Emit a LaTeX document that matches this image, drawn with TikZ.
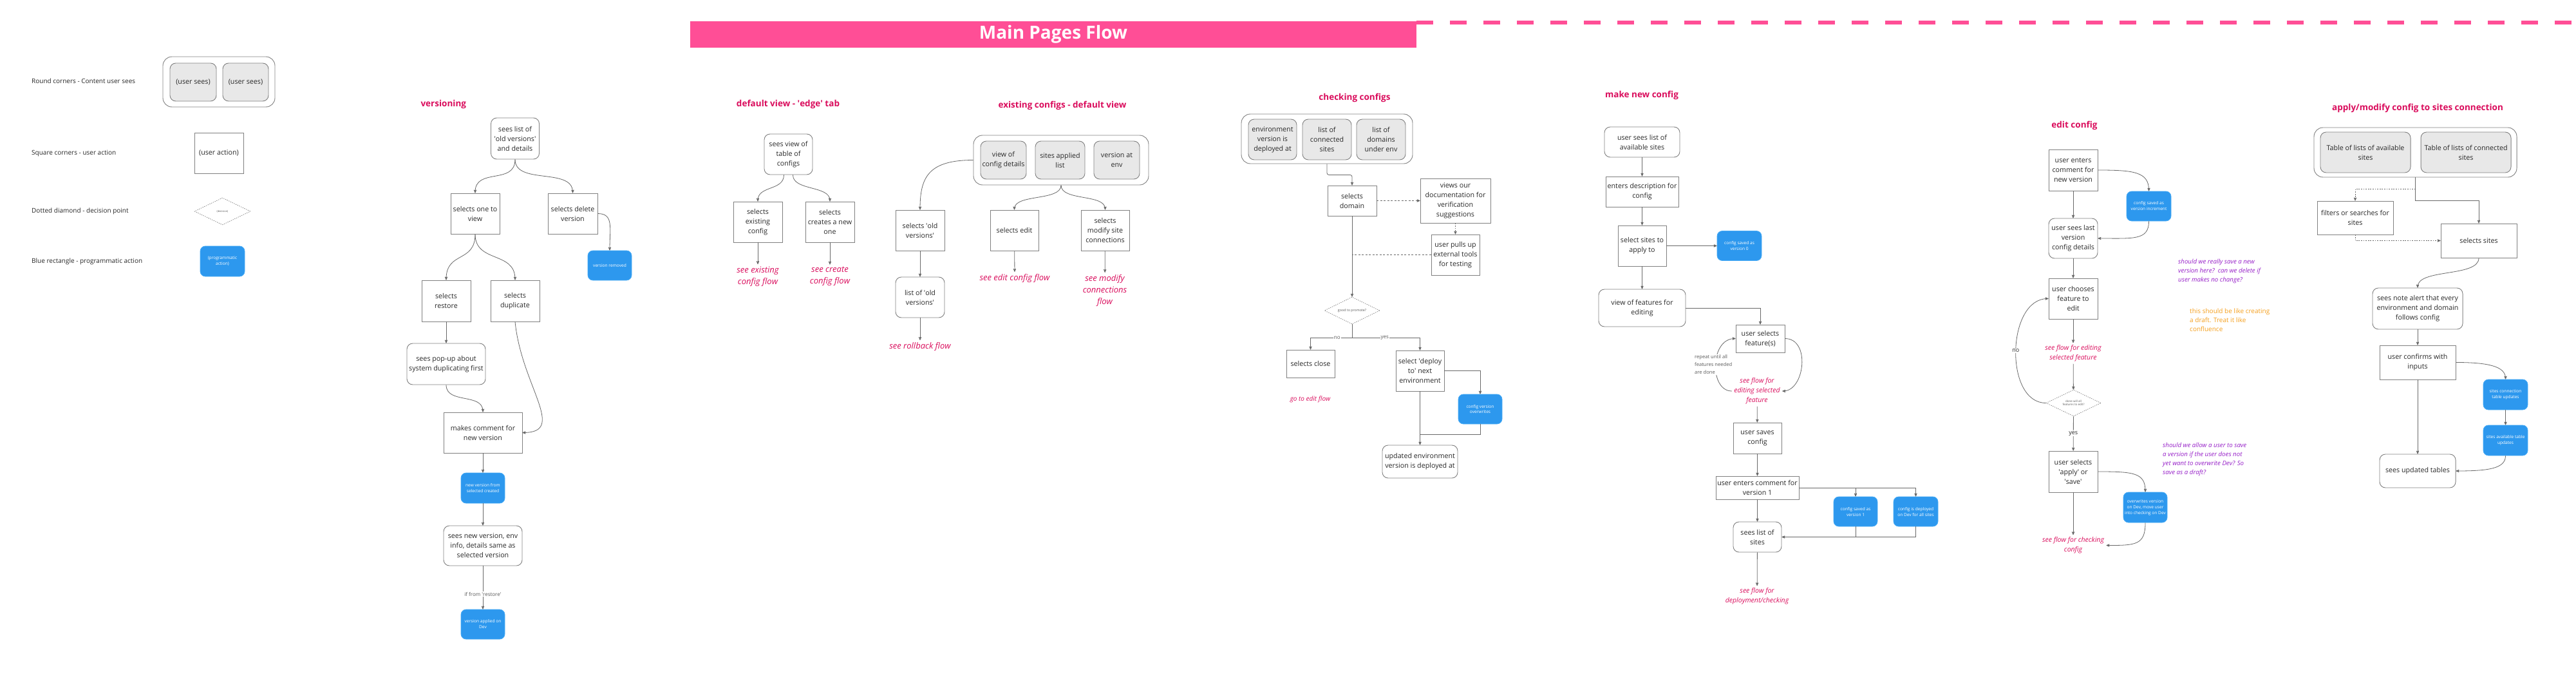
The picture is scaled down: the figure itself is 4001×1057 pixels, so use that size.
\documentclass[tikz,border=0pt]{standalone}
\usepackage{fontspec}
\setmainfont{Open Sans}
\usetikzlibrary{arrows,positioning,shapes.geometric}
\definecolor{barpink}{RGB}{255,78,150}
\definecolor{headpink}{RGB}{218,12,92}
\definecolor{progblue}{RGB}{45,152,238}
\definecolor{progedge}{RGB}{70,170,245}
\definecolor{panelgrey}{RGB}{232,232,232}
\definecolor{boxline}{RGB}{128,128,128}
\definecolor{linkgrey}{RGB}{105,105,105}
\definecolor{textdark}{RGB}{40,40,40}
\definecolor{textgrey}{RGB}{90,90,90}
\definecolor{notepurple}{RGB}{150,30,200}
\definecolor{noteorange}{RGB}{245,160,30}
\newcommand{\sq}{\textquotesingle}
\tikzset{
    %Define standard arrow tip
    >=stealth',
    %square corners - user action
    act/.style={
           rectangle,
           draw=boxline, line width=0.9pt,
           fill=white,
           minimum width=76pt,
           minimum height=63pt,
           inner sep=2pt,
           align=center,
           text=textdark,
           font=\fontsize{10.7}{15}\selectfont},
    %round corners - content user sees
    sees/.style={act, rounded corners=9pt},
    panel/.style={sees, fill=panelgrey},
    holder/.style={
           rectangle,
           draw=boxline, line width=0.9pt,
           rounded corners=14pt},
    %blue - programmatic action
    prog/.style={
           rectangle,
           rounded corners=8pt,
           fill=progblue, draw=progedge, line width=0.8pt,
           minimum width=68pt,
           minimum height=46pt,
           inner sep=1pt,
           align=center,
           text=white,
           font=\fontsize{6.6}{9}\selectfont},
    %dotted diamond - decision
    decide/.style={
           diamond, aspect=2,
           draw=boxline, line width=0.7pt,
           dash pattern=on 1.5pt off 1.5pt,
           inner sep=0pt,
           minimum width=86pt,
           minimum height=42pt,
           align=center,
           text=textgrey},
    % Define arrow style
    conn/.style={->, draw=linkgrey, line width=0.8pt},
    wire/.style={draw=linkgrey, line width=0.8pt},
    dashline/.style={dash pattern=on 3pt off 2.5pt},
    dotline/.style={dash pattern=on 1.8pt off 1.8pt},
    heading/.style={text=headpink, font=\fontsize{13.5}{16}\bfseries},
    flowref/.style={text=headpink, align=center, font=\fontsize{13}{18}\itshape},
    smallref/.style={flowref, font=\fontsize{10.5}{15}\itshape},
    lbl/.style={fill=white, text=textgrey, inner sep=1pt, font=\fontsize{8}{10}\selectfont},
    legendtext/.style={anchor=west, inner sep=0pt, text=textdark, font=\fontsize{10}{12}\selectfont},
    remark/.style={align=left, inner sep=0pt, anchor=west, text=notepurple, font=\fontsize{9.7}{14}\itshape}
}

\begin{document}
\begin{tikzpicture}[x=1pt, y=-1pt]
    \useasboundingbox (0,0) rectangle (4001,1057);
    \fill[white] (0,0) rectangle (4001,1057);

    % title banner
    \node[fill=barpink, minimum width=1128pt, minimum height=41pt, inner sep=0pt,
          text=white, font=\fontsize{28}{32}\bfseries] (banner) at (1636,53.5) {Main Pages Flow};
    \coordinate (dashend) at (4001,35.5);
    \draw[barpink, line width=6pt, dash pattern=on 26pt off 26pt] (banner.north east |- dashend) -- (dashend);

    % legend
    \node[legendtext] (lgt1) at (49,126) {Round corners - Content user sees};
    \node[legendtext] (lgt2) at (49,238) {Square corners - user action};
    \node[legendtext] (lgt3) at (49,328) {Dotted diamond - decision point};
    \node[legendtext] (lgt4) at (49,406) {Blue rectangle - programmatic action};
    \node[holder, minimum width=174pt, minimum height=78pt] (lgholder) at (340,127) {};
    \node[panel, minimum width=72pt, minimum height=59pt] (lgsee1) at (300,127.5) {(user sees)};
    \node[panel, minimum width=71pt, minimum height=59pt] (lgsee2) at (381.5,127.5) {(user sees)};
    \node[act] (lgact) at (340,237.5) {(user action)};
    \node[decide, minimum width=87pt, font=\fontsize{4}{5}\selectfont] (lgdec) at (345.5,328) {(decision)};
    \node[prog, minimum width=69pt, minimum height=47pt] (lgprog) at (345.5,405.5) {(programmatic\\action)};

    % versioning
    \node[heading, anchor=west] (hver) at (650,162) {versioning};
    \node[sees, minimum width=75pt, minimum height=64pt] (v1) at (800,215) {sees list of\\\sq old versions\sq\\and details};
    \node[act] (v2) at (738,331.5) {selects one to\\view};
    \node[act, minimum width=77pt] (v3) at (889.5,331.5) {selects delete\\version};
    \node[prog] (vdel) at (947,412) {version removed};
    \node[act, minimum height=64pt] (v4) at (693,467) {selects\\restore};
    \node[act, minimum height=64pt] (v5) at (800,467) {selects\\duplicate};
    \node[sees, minimum width=122pt, minimum height=64pt] (v6) at (693,565) {sees pop-up about\\system duplicating first};
    \node[act, minimum width=122pt] (v7) at (750,671.5) {makes comment for\\new version};
    \node[prog, minimum height=47pt] (v8) at (750,757.5) {new version from\\selected created};
    \node[sees, minimum width=122pt, minimum height=62pt] (v9) at (750,847) {sees new version, env\\info, details same as\\selected version};
    \node[prog] (v10) at (750,969) {version applied on\\Dev};
    \draw[conn] (v1.south) .. controls +(0,40) and +(0,-40) .. (v2.north);
    \draw[conn] (v1.south) .. controls +(0,40) and +(0,-40) .. (v3.north);
    \draw[conn] (v3.east) .. controls +(25,0) and +(0,-35) .. (vdel.north);
    \draw[conn] (v2.south) .. controls +(0,45) and +(0,-45) .. (v4.north);
    \draw[conn] (v2.south) .. controls +(0,45) and +(0,-45) .. (v5.north);
    \draw[conn] (v4) -- (v6);
    \draw[conn] (v6.south) .. controls +(0,30) and +(0,-30) .. (v7.north);
    \draw[conn] (v5.south) .. controls +(10,100) and +(70,0) .. (v7.east);
    \draw[conn] (v7) -- (v8);
    \draw[conn] (v8) -- (v9);
    \draw[conn] (v9) -- node[lbl, pos=0.65] {if from \sq restore\sq} (v10);

    % default view
    \node[heading] (hdef) at (1224,162) {default view - \sq edge\sq\ tab};
    \node[sees, minimum width=75pt] (d1) at (1224.5,239.5) {sees view of\\table of\\configs};
    \node[act] (d2) at (1177,344.5) {selects\\existing\\config};
    \node[act] (d3) at (1289,344.5) {selects\\creates a new\\one};
    \node[flowref] (dref1) at (1177,429) {see existing\\config flow};
    \node[flowref] (dref2) at (1289,429) {see create\\config flow};
    \draw[conn] ([xshift=-7pt]d1.south) .. controls +(0,25) and +(0,-25) .. (d2.north);
    \draw[conn] ([xshift=7pt]d1.south) .. controls +(0,25) and +(0,-25) .. (d3.north);
    \draw[conn] (d2) -- (dref1);
    \draw[conn] (d3) -- (dref2);

    % existing configs
    \node[heading] (hexi) at (1650,164) {existing configs - default view};
    \node[holder, minimum width=272pt, minimum height=77pt] (exholder) at (1648,248.5) {};
    \node[panel, minimum width=71pt, minimum height=59pt] (ex1) at (1558.5,248.5) {view of\\config details};
    \node[panel, minimum width=77pt, minimum height=59pt] (ex2) at (1646.5,248.5) {sites applied\\list};
    \node[panel, minimum width=71pt, minimum height=59pt] (ex3) at (1734.5,248.5) {version at\\env};
    \node[act] (e1) at (1429,357.5) {selects \sq old\\versions\sq};
    \node[act, minimum width=75pt] (e2) at (1575.5,357.5) {selects edit};
    \node[act, minimum width=75pt] (e3) at (1716.5,357.5) {selects\\modify site\\connections};
    \node[sees] (e4) at (1429,461.5) {list of \sq old\\versions\sq};
    \node[flowref] (eref1) at (1429,538) {see rollback flow};
    \node[flowref] (eref2) at (1576,432) {see edit config flow};
    \node[flowref] (eref3) at (1716,451) {see modify\\connections\\flow};
    \draw[conn] (exholder.west) .. controls +(-70,0) and +(0,-50) .. (e1.north);
    \draw[conn] (exholder.south) .. controls +(0,25) and +(0,-25) .. (e2.north);
    \draw[conn] (exholder.south) .. controls +(0,25) and +(0,-25) .. (e3.north);
    \draw[conn] (e1) -- (e4);
    \draw[conn] (e4) -- (eref1);
    \draw[conn] (e2) -- (eref2);
    \draw[conn] (e3) -- (eref3);

    % checking configs
    \node[heading] (hchk) at (2104,152) {checking configs};
    \node[holder, minimum width=266pt, minimum height=77pt] (chkholder) at (2061,215.5) {};
    \node[panel, minimum width=75pt] (ch1) at (1976.5,216.5) {environment\\version is\\deployed at};
    \node[panel] (ch2) at (2061,216.5) {list of\\connected\\sites};
    \node[panel] (ch3) at (2145,216.5) {list of\\domains\\under env};
    \node[act, minimum height=47pt] (c1) at (2100,311.5) {selects\\domain};
    \node[act, minimum width=109pt, minimum height=69pt] (c2) at (2260.5,311.5) {views our\\documentation for\\verification\\suggestions};
    \node[act, minimum width=75pt] (c3) at (2260.5,395.5) {user pulls up\\external tools\\for testing};
    \node[decide, font=\fontsize{5.3}{6}\selectfont] (promote) at (2100,482) {good to promote?};
    \node[act, minimum width=75pt, minimum height=43pt] (c4) at (2035.5,564.5) {selects close};
    \node[smallref, font=\fontsize{10}{14}\itshape] (cref) at (2035,620) {go to edit flow};
    \node[act, minimum width=75pt] (c5) at (2205.5,575.5) {select \sq deploy\\to\sq\ next\\environment};
    \node[prog] (c6) at (2299,635) {config version\\overwrites};
    \node[sees, minimum width=117pt, minimum height=51pt] (c7) at (2205.5,716.5) {updated environment\\version is deployed at};
    \coordinate (cjoin) at (2205.5,674);
    \draw[conn, rounded corners=3pt] (chkholder.south) -- ++(0,17) -| (c1.north);
    \draw[conn, dashline] (c1) -- (c2);
    \draw[conn, dotline] (c2) -- (c3);
    \draw[wire, dashline] (c3.west) -- (c3.west -| c1.south);
    \draw[conn] (c1) -- (promote);
    \draw[conn] (promote.south) -- ++(0,21) -| node[lbl, pos=0.18] {no} (c4.north);
    \draw[conn] (promote.south) -- ++(0,21) -| node[lbl, pos=0.24] {yes} (c5.north);
    \draw[conn] (c5.east) -| (c6.north);
    \draw[conn] (c5) -- (c7);
    \draw[wire] (c6.south) |- (cjoin);

    % make new config
    \node[heading] (hmake) at (2550,148) {make new config};
    \node[sees, minimum width=117pt, minimum height=47pt] (m1) at (2550.5,220.5) {user sees list of\\available sites};
    \node[act, minimum width=113pt, minimum height=47pt] (m2) at (2550.5,297.5) {enters description for\\config};
    \node[act, minimum width=75pt] (m3) at (2550.5,381.5) {select sites to\\apply to};
    \node[prog, minimum width=69pt] (m4) at (2701.5,381.5) {config saved as\\version 0};
    \node[sees, minimum width=135pt, minimum height=58pt] (m5) at (2550.5,478) {view of features for\\editing};
    \node[act, minimum height=43pt] (m6) at (2734,525.5) {user selects\\feature(s)};
    \node[smallref] (mref) at (2729,607) {see flow for\\editing selected\\feature};
    \node[act, minimum width=75pt, minimum height=48pt] (m7) at (2729.5,680) {user saves\\config};
    \node[act, minimum width=129pt, minimum height=36pt] (m8) at (2729.5,757) {user enters comment for\\version 1};
    \node[sees, minimum width=75pt, minimum height=47pt] (m9) at (2729.5,833.5) {sees list of\\sites};
    \node[smallref] (mref2) at (2729,925.5) {see flow for\\deployment/checking};
    \node[prog] (b1) at (2882,794) {config saved as\\version 1};
    \node[prog, minimum width=69pt] (b2) at (2975.5,794) {config is deployed\\on Dev for all sites};
    \draw[conn] (m1) -- (m2);
    \draw[conn] (m2) -- (m3);
    \draw[conn] (m3) -- (m4);
    \draw[conn] (m3) -- (m5);
    \draw[conn] (m5.east) -| (m6.north);
    \draw[conn] (mref.west) .. controls +(-35,0) and +(-40,0) .. (m6.west);
    \draw[conn] (m6.east) .. controls +(40,0) and +(35,0) .. (mref.east);
    \node[align=left, anchor=west, fill=white, inner sep=1pt, text=textgrey,
          font=\fontsize{7.6}{12}\selectfont] (mnote) at (2631,566) {repeat until all\\features needed\\are done};
    \draw[conn] (mref) -- (m7);
    \draw[conn] (m7) -- (m8);
    \draw[conn] (m8) -- (m9);
    \draw[conn] (m9) -- (mref2);
    \draw[conn] (m8.east) -| (b2.north);
    \draw[conn] (m8.east -| b1.north) -- (b1.north);
    \draw[conn] (b2.south) |- (m9.east);
    \draw[wire] (b1.south) -- (b1.south |- m9.east);

    % edit config
    \node[heading] (hedit) at (3222,195) {edit config};
    \node[act, minimum height=64pt] (k1) at (3220,264) {user enters\\comment for\\new version};
    \node[prog, minimum width=69pt] (k2) at (3337.5,320) {config saved as\\version increment};
    \node[sees, minimum height=62pt] (k3) at (3220,370) {user sees last\\version\\config details};
    \node[act] (k4) at (3220,463.5) {user chooses\\feature to\\edit};
    \node[smallref] (kref1) at (3220,548.5) {see flow for editing\\selected feature};
    \node[decide, minimum width=85pt, minimum height=41pt, font=\fontsize{4.5}{5.5}\selectfont] (kdec) at (3220.5,625.5) {done will all\\features to edit?};
    \node[act, minimum height=64pt] (k5) at (3220,732) {user selects\\\sq apply\sq\ or\\\sq save\sq};
    \node[prog, minimum height=47pt] (k6) at (3332,787.5) {overwrites version\\on Dev, move user\\into checking on Dev};
    \node[smallref] (kref2) at (3220,846.5) {see flow for checking\\config};
    \draw[conn] (k1) -- (k3);
    \draw[conn] (k1.east) .. controls +(55,0) and +(0,-30) .. (k2.north);
    \draw[conn] (k2.south) .. controls +(0,30) and +(55,0) .. (k3.east);
    \draw[conn] (k3) -- (k4);
    \draw[conn] (k4) -- (kref1);
    \draw[conn] (kref1) -- (kdec);
    \draw[conn] (kdec.west) .. controls +(-65,0) and +(-65,0) .. node[lbl, text=textdark, font=\fontsize{9}{11}\selectfont] {no} (k4.west);
    \draw[conn] (kdec) -- node[lbl, text=textdark, font=\fontsize{9}{11}\selectfont] {yes} (k5);
    \draw[conn] (k5.east) .. controls +(55,0) and +(0,-30) .. (k6.north);
    \draw[conn] (k5) -- (kref2);
    \draw[conn] (k6.south) .. controls +(0,35) and +(45,0) .. (kref2.east);
    \node[remark] (knote1) at (3383,421) {should we really save a new\\version here?\ \ can we delete if\\user makes no change?};
    \node[remark, text=noteorange, font=\fontsize{10}{14}\selectfont] (knote2) at (3401,497) {this should be like creating\\a draft. Treat it like\\confluence};
    \node[remark] (knote3) at (3359,712.5) {should we allow a user to save\\a version if the user does not\\yet want to overwrite Dev? So\\save as a draft?};

    % apply/modify config to sites connection
    \node[heading] (happ) at (3755,168) {apply/modify config to sites connection};
    \node[holder, minimum width=315pt, minimum height=77pt] (apholder) at (3751.5,236.5) {};
    \node[panel, minimum width=140pt] (ap1) at (3674,236.5) {Table of lists of available\\sites};
    \node[panel, minimum width=140pt] (ap2) at (3830,236.5) {Table of lists of connected\\sites};
    \node[act, minimum width=118pt, minimum height=52pt] (a1) at (3658,338) {filters or searches for\\sites};
    \node[act, minimum width=118pt, minimum height=53pt] (a2) at (3850,373.5) {selects sites};
    \node[sees, minimum width=140pt, minimum height=64pt] (a3) at (3755,479) {sees note alert that every\\environment and domain\\follows config};
    \node[act, minimum width=118pt, minimum height=53pt] (a4) at (3755,562.5) {user confirms with\\inputs};
    \node[prog, minimum width=69pt, minimum height=47pt] (a5) at (3891.5,612.5) {sites connection\\table updates};
    \node[prog, minimum width=69pt, minimum height=47pt] (a6) at (3891.5,683.5) {sites available table\\updates};
    \node[sees, minimum width=118pt, minimum height=52pt] (a7) at (3755,731) {sees updated tables};
    \draw[conn] (apholder.south) -- ++(0,36) -| (a2.north);
    \draw[conn, dotline] (apholder.south) ++(0,18) -| (a1.north);
    \draw[conn, dotline] (a1.south) |- (a2.west);
    \draw[conn] (a2.south) .. controls +(0,30) and +(0,-30) .. (a3.north);
    \draw[conn] (a3) -- (a4);
    \draw[conn] (a4.east) .. controls +(50,0) and +(0,-20) .. (a5.north);
    \draw[conn] (a5) -- (a6);
    \draw[conn] (a4) -- (a7);
    \draw[conn] (a6.south) .. controls +(0,20) and +(50,0) .. (a7.east);
\end{tikzpicture}
\end{document}
